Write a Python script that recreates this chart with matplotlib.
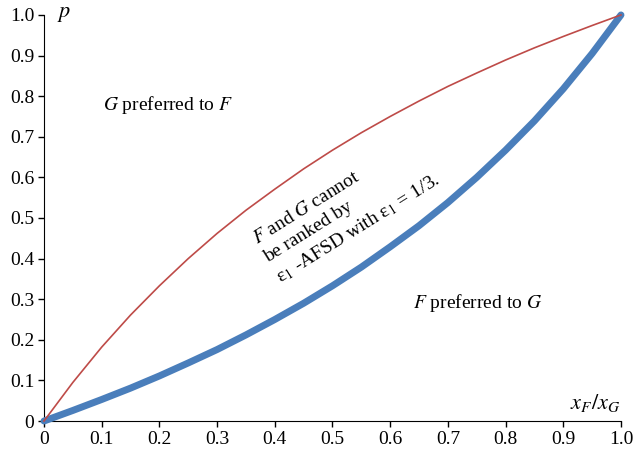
import matplotlib
matplotlib.use('Agg')
import matplotlib.pyplot as plt

plt.rcParams['font.family'] = ['Liberation Serif', 'DejaVu Serif']
plt.rcParams['mathtext.fontset'] = 'stix'

# values
x = [0, 0.05, 0.1, 0.15, 0.2, 0.25, 0.3, 0.35, 0.4, 0.45, 0.5,
     0.55, 0.6, 0.65, 0.7, 0.75, 0.8, 0.85, 0.9, 0.95, 1.0]
upper = [0, 0.095, 0.182, 0.261, 0.333, 0.4, 0.462, 0.519, 0.571, 0.621, 0.667,
         0.71, 0.75, 0.788, 0.824, 0.857, 0.889, 0.919, 0.947, 0.974, 1.0]
lower = [0, 0.026, 0.053, 0.081, 0.111, 0.143, 0.176, 0.212, 0.25, 0.29, 0.333,
         0.379, 0.429, 0.481, 0.538, 0.6, 0.667, 0.739, 0.818, 0.905, 1.0]
ticks = [0, 0.1, 0.2, 0.3, 0.4, 0.5, 0.6, 0.7, 0.8, 0.9, 1.0]
tick_labels = ['0', '0.1', '0.2', '0.3', '0.4', '0.5', '0.6', '0.7', '0.8', '0.9', '1.0']

fig = plt.figure(figsize=(6.33, 4.53), dpi=100)
ax = fig.add_axes([0.0695, 0.0706, 0.9115, 0.8964])

ax.plot(x, lower, color='#4a7ebb', lw=5, solid_capstyle='round', clip_on=False, zorder=3)
ax.plot(x, upper, color='#be4b48', lw=1.2, clip_on=False, zorder=4)

ax.set_xlim(0, 1)
ax.set_ylim(0, 1)
ax.set_xticks(ticks)
ax.set_xticklabels(tick_labels)
ax.set_yticks(ticks)
ax.set_yticklabels(tick_labels)
ax.tick_params(direction='out', length=4, width=1, labelsize=14, pad=3)
for s in ['top', 'right']:
    ax.spines[s].set_visible(False)

ax.text(0.103, 0.778, '$\\mathit{G}$ preferred to $\\mathit{F}$', fontsize=14, va='center')
ax.text(0.64, 0.29, '$\\mathit{F}$ preferred to $\\mathit{G}$', fontsize=14, va='center')
ax.text(0.525, 0.52,
        '$\\mathit{F}$ and $\\mathit{G}$ cannot\nbe ranked by\n'
        'ε$_1$ -AFSD with ε$_1$ = 1/3.',
        fontsize=14, rotation=32, ha='center', va='center',
        rotation_mode='anchor', multialignment='left', linespacing=1.35)
ax.text(0.022, 1.0, '$p$', fontsize=16, va='center', transform=ax.transAxes)
ax.text(0.955, 0.045, '$x_F/x_G$', fontsize=16, ha='center', va='center')

fig.savefig('out.png', dpi=100)
